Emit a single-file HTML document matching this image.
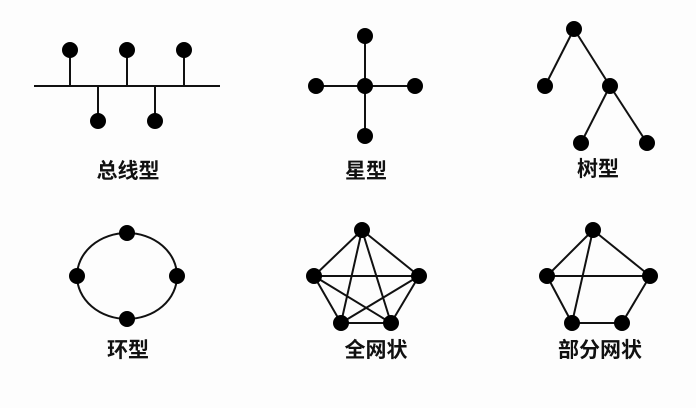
<!DOCTYPE html>
<html><head><meta charset="utf-8"><style>
html,body{margin:0;padding:0;background:#fdfdfd;}
svg{display:block}
text{font-family:"Liberation Sans","Noto Sans CJK SC",sans-serif;font-size:21px;font-weight:bold;fill:#111;text-anchor:middle}
</style></head><body>
<svg width="696" height="408" viewBox="0 0 696 408" xmlns="http://www.w3.org/2000/svg">
<g stroke="#111" stroke-width="2" fill="none">
<!-- bus -->
<line x1="34" y1="86" x2="220" y2="86"/>
<line x1="70" y1="50" x2="70" y2="86"/>
<line x1="127" y1="50" x2="127" y2="86"/>
<line x1="184" y1="50" x2="184" y2="86"/>
<line x1="98" y1="86" x2="98" y2="121"/>
<line x1="155" y1="86" x2="155" y2="121"/>
<!-- star -->
<line x1="365" y1="36" x2="365" y2="136"/>
<line x1="316" y1="86" x2="415" y2="86"/>
<!-- tree -->
<line x1="574" y1="29" x2="545" y2="86"/>
<line x1="574" y1="29" x2="610" y2="86"/>
<line x1="610" y1="86" x2="581" y2="143"/>
<line x1="610" y1="86" x2="647" y2="143"/>
<!-- ring -->
<ellipse cx="127" cy="276" rx="50" ry="43"/>
<!-- full mesh -->
<path d="M362 230 L314 276 M362 230 L419 276 M362 230 L341 323 M362 230 L391 323 M314 276 L419 276 M314 276 L341 323 M314 276 L391 323 M419 276 L341 323 M419 276 L391 323 M341 323 L391 323"/>
<!-- partial mesh -->
<path d="M593 230 L547 276 M593 230 L650 276 M547 276 L650 276 M547 276 L572 323 M593 230 L572 323 M572 323 L622 323 M622 323 L650 276"/>
</g>
<g fill="#000">
<circle cx="70" cy="50" r="8"/><circle cx="127" cy="50" r="8"/><circle cx="184" cy="50" r="8"/>
<circle cx="98" cy="121" r="8"/><circle cx="155" cy="121" r="8"/>
<circle cx="365" cy="36" r="8"/><circle cx="365" cy="136" r="8"/><circle cx="316" cy="86" r="8"/><circle cx="415" cy="86" r="8"/><circle cx="365" cy="86" r="8"/>
<circle cx="574" cy="29" r="8"/><circle cx="545" cy="86" r="8"/><circle cx="610" cy="86" r="8"/><circle cx="581" cy="143" r="8"/><circle cx="647" cy="143" r="8"/>
<circle cx="127" cy="233" r="8"/><circle cx="77" cy="276" r="8"/><circle cx="177" cy="276" r="8"/><circle cx="127" cy="319" r="8"/>
<circle cx="362" cy="230" r="8"/><circle cx="314" cy="276" r="8"/><circle cx="419" cy="276" r="8"/><circle cx="341" cy="323" r="8"/><circle cx="391" cy="323" r="8"/>
<circle cx="593" cy="230" r="8"/><circle cx="547" cy="276" r="8"/><circle cx="650" cy="276" r="8"/><circle cx="572" cy="323" r="8"/><circle cx="622" cy="323" r="8"/>
</g>
<text x="128" y="178">总线型</text>
<text x="366" y="178">星型</text>
<text x="598" y="176">树型</text>
<text x="128" y="357">环型</text>
<text x="376" y="357">全网状</text>
<text x="600" y="357">部分网状</text>
</svg>
</body></html>
